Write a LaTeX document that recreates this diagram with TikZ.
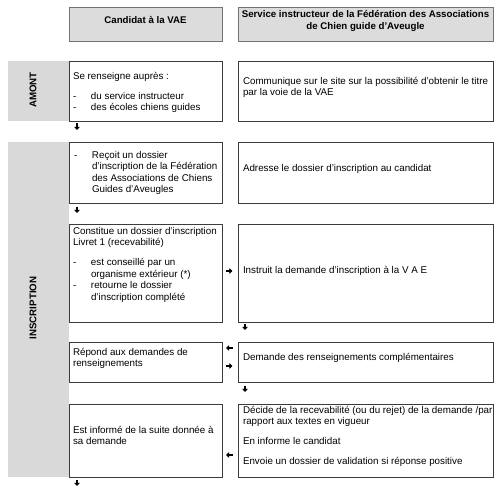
\documentclass[tikz,border=0pt]{standalone}
\usepackage{fontspec}
\setmainfont{Liberation Sans}
\usetikzlibrary{arrows.meta}
\definecolor{bandgray}{HTML}{D9D9D9}
\definecolor{hdrgray}{HTML}{DCDCDC}
\definecolor{linegray}{HTML}{3C3C3C}
\newcommand\rbox[6]{\node[#6, minimum width={(#4)-(#2)}, minimum height={(#5)-(#3)}] (#1) at ({((#2)+(#4))/2},{((#3)+(#5))/2}) {};}
\newcommand\dsh{\makebox[18pt][l]{-}}
\newcommand\ind{\hspace*{18pt}}
\tikzset{
  cell/.style={draw=linegray, line width=0.9pt, fill=white, inner sep=0pt, outer sep=0pt},
  hdr/.style={cell, fill=hdrgray, draw=black!55},
  band/.style={fill=bandgray, draw=none, inner sep=0pt, outer sep=0pt},
  txt/.style={inner sep=0pt, outer sep=0pt, align=left, anchor=north west, font=\fontsize{9.8}{11.5}\selectfont},
  htxt/.style={inner sep=0pt, outer sep=0pt, align=center, font=\fontsize{9.7}{11.2}\selectfont\bfseries},
  vtxt/.style={inner sep=0pt, rotate=90, font=\fontsize{9.7}{11.5}\selectfont\bfseries},
  tiny/.style={-{Triangle[length=3.2pt,width=5.6pt]}, line width=2.2pt, black}
}
\begin{document}
\begin{tikzpicture}[x=1pt,y=-1pt]
\useasboundingbox (0,0) rectangle (500,489);
% bands
\rbox{bandA}{8}{61}{69}{121}{band}
\rbox{bandI}{8}{142}{69}{477}{band}
\node[vtxt] (lblA) at (33,90) {AMONT};
\node[vtxt] (lblI) at (33,308) {INSCRIPTION};
% headers
\rbox{hdrL}{69}{7}{222}{41}{hdr}
\rbox{hdrR}{238}{7}{493}{41}{hdr}
\node[htxt] (hL) at (145.5,19.5) {Candidat à la VAE};
\node[htxt] (hR) at (365.5,21) {Service instructeur de la Fédération des Associations\\de Chien guide d’Aveugle};
% boxes
\rbox{aL}{69}{61}{222}{121}{cell}
\rbox{aR}{238}{61}{493}{121}{cell}
\rbox{bL}{69}{142}{222}{203}{cell}
\rbox{bR}{238}{142}{493}{203}{cell}
\rbox{cL}{69}{224}{222}{322}{cell}
\rbox{cR}{238}{224}{493}{322}{cell}
\rbox{dL}{69}{342}{222}{382}{cell}
\rbox{dR}{238}{342}{493}{382}{cell}
\rbox{eL}{69}{404}{222}{477}{cell}
\rbox{eR}{238}{404}{493}{477}{cell}
% texts
\node[txt] (taL) at (73,72) {Se renseigne auprès :\\[8.5pt]\dsh du service instructeur\\\dsh des écoles chiens guides};
\node[txt] (taR) at (243,77) {Communique sur le site sur la possibilité d’obtenir le titre\\par la voie de la VAE};
\node[txt] (tbL) at (74,151) {\dsh Reçoit un dossier\\\ind d’inscription de la Fédération\\\ind des Associations de Chiens\\\ind Guides d’Aveugles};
\node[txt] (tbR) at (243,164) {Adresse le dossier d’inscription au candidat};
\node[txt] (tcL) at (73,227) {Constitue un dossier d’inscription\\Livret 1 (recevabilité)\\[8.5pt]\dsh est conseillé par un\\\ind organisme extérieur (*)\\\dsh retourne le dossier\\\ind d’inscription complété};
\node[txt] (tcR) at (243,266) {Instruit la demande d’inscription à la V A E};
\node[txt] (tdL) at (73,348) {Répond aux demandes de\\renseignements};
\node[txt] (tdR) at (243,353) {Demande des renseignements complémentaires};
\node[txt] (teL) at (73,426) {Est informé de la suite donnée à\\sa demande};
\node[txt] (teR) at (243,406) {Décide de la recevabilité (ou du rejet) de la demande /par\\rapport aux textes en vigueur\\[8.5pt]En informe le candidat\\[8.5pt]Envoie un dossier de validation si réponse positive};
% small arrows
\coordinate (a1s) at (77,123.5); \coordinate (a1e) at (77,130);
\coordinate (a2s) at (77,206.5); \coordinate (a2e) at (77,213);
\coordinate (a3s) at (77,479.5); \coordinate (a3e) at (77,486);
\coordinate (a4s) at (245,323.5); \coordinate (a4e) at (245,330);
\coordinate (a5s) at (245,385.5); \coordinate (a5e) at (245,392);
\coordinate (a6s) at (226,271); \coordinate (a6e) at (232.5,271);
\coordinate (a7s) at (232.5,348); \coordinate (a7e) at (226,348);
\coordinate (a8s) at (226,366); \coordinate (a8e) at (232.5,366);
\coordinate (a9s) at (232.5,455); \coordinate (a9e) at (226,455);
\foreach \i in {1,...,9} { \draw[tiny] (a\i s) -- (a\i e); }
\end{tikzpicture}
\end{document}
